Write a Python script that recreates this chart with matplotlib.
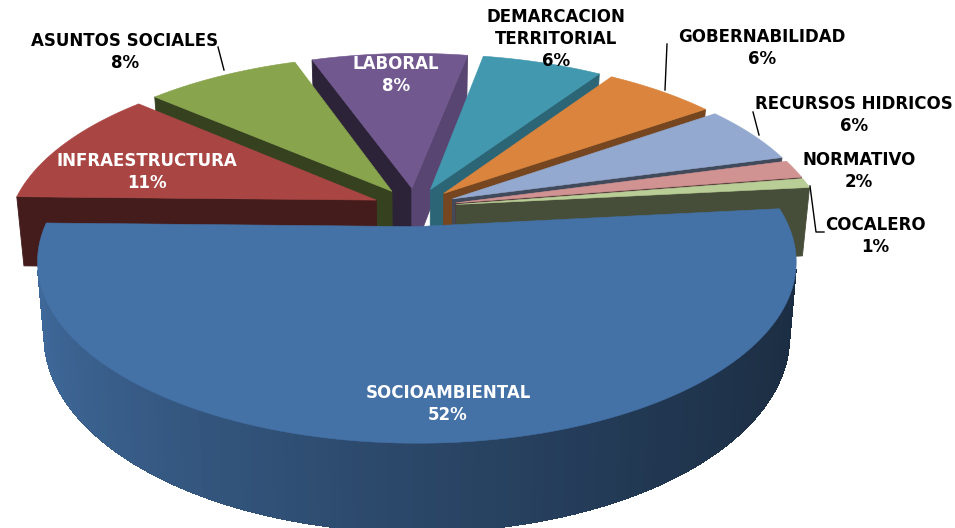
import numpy as np
import matplotlib
matplotlib.use("Agg")
import matplotlib.pyplot as plt
from matplotlib.patches import Polygon
from matplotlib.colors import to_rgb

# clockwise from the start angle
categories = ["SOCIOAMBIENTAL", "INFRAESTRUCTURA", "ASUNTOS SOCIALES", "LABORAL",
              "DEMARCACION\nTERRITORIAL", "GOBERNABILIDAD", "RECURSOS HIDRICOS",
              "NORMATIVO", "COCALERO"]
values = [52, 11.1, 8.2, 8.3, 6.4, 5.9, 5.5, 1.7, 0.9]
colors = ["#4471A6", "#A94644", "#88A44D", "#71588F", "#4198AF",
          "#DB843D", "#93A9CF", "#D19392", "#B9CD96"]
text_colors = ["white", "white", "black", "white", "black", "black", "black", "black", "black"]
label_pos = [(448, 404), (147, 172), (125, 52), (396, 75), (556, 39),
             (762, 48), (854, 115), (859, 171), (875, 236)]

# pie geometry, in pixels
CX, CY = 415, 207
RX, RY = 364, 167
PERSP = 0.19
EXPLODE = 0.115
DEPTH = 70
BOTTOM_SHRINK = 0.982
START_ANGLE = 6


def project(u, v, low=False):
    s = 1 / (1 + PERSP * v)
    x = RX * u * s
    y = CY - RY * v * s
    if low:
        x = x * BOTTOM_SHRINK
        y = y + DEPTH * s
    return CX + x, y


def wall_shade(angle):
    # how dark the cut face gets
    angle = angle % 360
    if angle > 90:
        return 0.40
    return np.interp(angle, [6, 17, 39, 60, 82], [0.38, 0.45, 0.55, 0.70, 0.80])


def add_quad(ax, a, b, color, smooth=True):
    top_a = project(*a)
    top_b = project(*b)
    low_b = project(*b, low=True)
    low_a = project(*a, low=True)
    pts = np.array([top_a, top_b, low_b, low_a])
    x, y = pts[:, 0], pts[:, 1]
    area = np.sum(x * np.roll(y, -1) - np.roll(x, -1) * y)
    if area < 0:
        ax.add_patch(Polygon(pts, closed=True, facecolor=color, edgecolor=color, lw=0.6,
                             antialiased=smooth))


def draw_slice(ax, start, end, color, is_big):
    mid = np.radians((start + end) / 2)
    ou, ov = EXPLODE * np.cos(mid), EXPLODE * np.sin(mid)
    n = max(int((start - end) / 1.5), 2)
    th = np.radians(np.linspace(start, end, n + 1))
    rim = list(zip(ou + np.cos(th), ov + np.sin(th)))
    apex = (ou, ov)
    base = np.array(to_rgb(color))

    add_quad(ax, apex, rim[0], tuple(base * wall_shade(start)))
    for i in range(n):
        if is_big:
            t = (np.cos(th[i]) + 1) / 2
            shade = 0.95 - 0.56 * t ** 0.8
        else:
            shade = 0.4
        add_quad(ax, rim[i], rim[i + 1], tuple(base * shade), smooth=False)
    add_quad(ax, rim[-1], apex, tuple(base * wall_shade(end)))

    face = [project(*apex)] + [project(*p) for p in rim]
    ax.add_patch(Polygon(face, closed=True, facecolor=color, edgecolor=color, lw=0.4))


fig = plt.figure(figsize=(9.55, 5.28), dpi=100)
ax = fig.add_axes([0, 0, 1, 1])
ax.set_xlim(0, 955)
ax.set_ylim(528, 0)
ax.axis("off")

spans = []
angle = START_ANGLE
for val in values:
    spans.append((angle, angle - val / sum(values) * 360))
    angle = spans[-1][1]

order = sorted(range(len(values)), key=lambda i: -np.sin(np.radians(sum(spans[i]) / 2)))
order.remove(0)
order.append(0)
for i in order:
    draw_slice(ax, spans[i][0], spans[i][1], colors[i], i == 0)

# leader lines
leaders = [[(218, 47), (224, 70)], [(667, 44), (665, 90)], [(753, 112), (759, 135)],
           [(824, 232), (816, 232), (810, 186)]]
for pts in leaders:
    ax.plot([p[0] for p in pts], [p[1] for p in pts], color="black", lw=1, zorder=5)

for name, val, pos, tc in zip(categories, values, label_pos, text_colors):
    ax.text(pos[0], pos[1], f"{name}\n{val:.0f}%", ha="center", va="center", color=tc,
            fontsize=12, fontweight="bold", family="DejaVu Sans", linespacing=1.3, zorder=6)

fig.savefig("out.png", dpi=100, facecolor="white")
